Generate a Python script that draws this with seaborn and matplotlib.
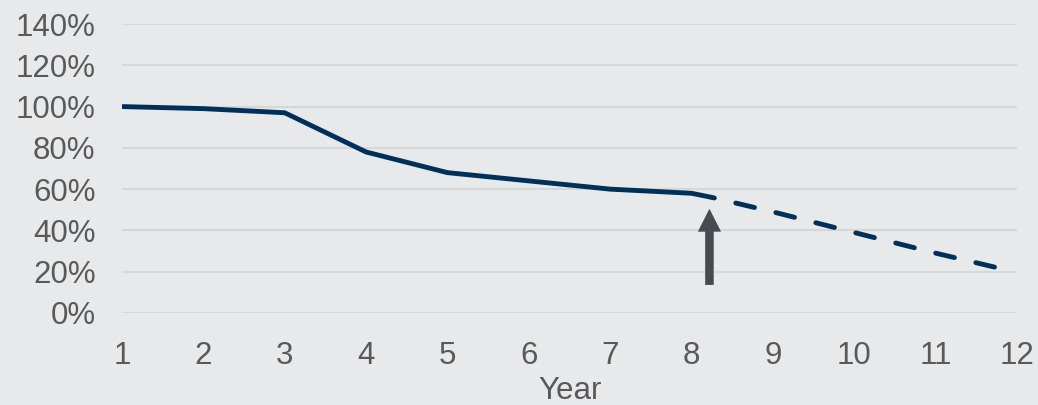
import matplotlib
matplotlib.use("Agg")
import matplotlib.pyplot as plt
import seaborn as sns
import pandas as pd
from matplotlib.patches import FancyArrow

# Data
actual_years = [1, 2, 3, 4, 5, 6, 7, 8, 8.25]
actual_values = [100, 99, 97, 78, 68, 64, 60, 58, 56]
proj_years = [8.25, 9, 10, 11, 11.75]
proj_values = [56, 49, 39, 29, 22]
x_ticks = [1, 2, 3, 4, 5, 6, 7, 8, 9, 10, 11, 12]
y_ticks = [0, 20, 40, 60, 80, 100, 120, 140]
y_tick_labels = [f"{v}%" for v in y_ticks]
arrow_x = 8.22
arrow_from = 13.6
arrow_to = 50.5

BG = "#E8E9EB"
LINE = "#00305A"
TXT = "#595959"

sns.set_theme(style="white")
plt.rcParams['font.family'] = ['Liberation Sans', 'DejaVu Sans']

fig = plt.figure(figsize=(10.38, 4.05), dpi=100, facecolor=BG)
ax = fig.add_axes([122/1038, 1 - 313/405, (1017-122)/1038, (313-24)/405])
ax.set_facecolor(BG)

df_a = pd.DataFrame({"Year": actual_years, "Value": actual_values})
df_p = pd.DataFrame({"Year": proj_years, "Value": proj_values})
sns.lineplot(data=df_a, x="Year", y="Value", ax=ax, color=LINE, linewidth=3.5,
             solid_capstyle="butt")
sns.lineplot(data=df_p, x="Year", y="Value", ax=ax, color=LINE, linewidth=3.5,
             dashes=False, linestyle=(3.43, (3.95, 4.53)), dash_capstyle="round")

ax.set_xlim(1, 12)
ax.set_ylim(0, 140)
ax.set_xticks(x_ticks)
ax.set_xticklabels([str(t) for t in x_ticks])
ax.set_yticks(y_ticks)
ax.set_yticklabels(y_tick_labels)
ax.yaxis.grid(True, color="#D6D7D9", linewidth=1.5)
ax.xaxis.grid(False)
for s in ax.spines.values():
    s.set_visible(False)
ax.tick_params(axis="both", length=0, labelsize=22.5, colors=TXT)
ax.tick_params(axis="x", pad=20)
ax.tick_params(axis="y", pad=19)
for lbl in ax.get_yticklabels():
    lbl.set_horizontalalignment("right")
ax.set_xlabel("Year", fontsize=22.5, color=TXT, labelpad=4)
ax.set_ylabel("")

# Arrow (vertical, flat tail)
head_len = 11.1
ax.add_patch(FancyArrow(arrow_x, arrow_from, 0, arrow_to - arrow_from,
                        width=0.105, head_width=0.285, head_length=head_len,
                        length_includes_head=True, color="#454B50", lw=0,
                        zorder=3))

fig.savefig("out.png", dpi=100, facecolor=BG)
